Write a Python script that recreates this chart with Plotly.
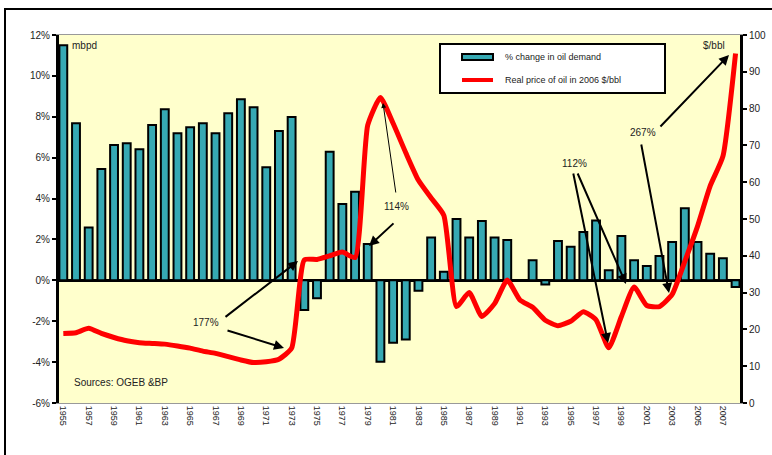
import plotly.graph_objects as go

years = list(range(1955, 2009))
demand_change = [11.5, 7.68, 2.59, 5.44, 6.62, 6.70, 6.41, 7.60, 8.37, 7.19,
                 7.49, 7.68, 7.19, 8.17, 8.86, 8.46, 5.53, 7.30, 7.99, -1.45,
                 -0.88, 6.29, 3.73, 4.33, 1.78, -3.98, -3.05, -2.89, -0.51, 2.10,
                 0.42, 3.00, 2.10, 2.90, 2.10, 1.97, 0.0, 0.98, -0.20, 1.92,
                 1.64, 2.36, 2.93, 0.49, 2.17, 0.98, 0.70, 1.19, 1.87, 3.52,
                 1.87, 1.30, 1.08, -0.33]
real_price = [18.9, 19.1, 20.3, 18.9, 17.8, 16.9, 16.4, 16.2, 16.0, 15.5,
              14.9, 14.1, 13.5, 12.6, 11.7, 11.0, 11.2, 11.9, 14.9, 38.9,
              39.0, 40.0, 41.0, 39.5, 75.5, 83.0, 76.0, 68.0, 60.5, 55.7,
              51.0, 26.2, 30.0, 23.5, 27.0, 33.4, 28.0, 26.0, 22.5, 21.0,
              22.2, 24.8, 22.6, 15.0, 23.5, 31.5, 26.5, 26.2, 29.5, 38.5,
              48.0, 59.0, 67.0, 95.0]
tick_years = list(range(1955, 2008, 2))
tick_labels = [str(y) for y in tick_years]
left_ticks = list(range(-6, 13, 2))
left_labels = [f"{v}%" for v in left_ticks]
right_ticks = list(range(0, 101, 10))

L, R, T, B = 59, 740, 35, 403
W, H = 772, 455

def px(x):
    return (x - L) / (R - L)

def py(y):
    return (B - y) / (B - T)

fig = go.Figure()
fig.add_trace(go.Bar(
    x=years, y=demand_change, width=0.62,
    marker=dict(color="#36A9B3", line=dict(color="black", width=2)),
    name="% change in oil demand", yaxis="y"))
fig.add_trace(go.Scatter(
    x=years, y=real_price, mode="lines",
    line=dict(color="#FF0000", width=5, shape="spline", smoothing=0.5),
    name="Real price of oil in 2006 $/bbl", yaxis="y2"))

tfont = dict(family="Liberation Sans, Arial, sans-serif", size=10, color="#222")

fig.update_layout(
    width=W, height=H,
    margin=dict(l=L, r=W - R, t=T, b=H - B),
    paper_bgcolor="white", plot_bgcolor="#FFFFCC",
    showlegend=False, bargap=0.35,
    font=tfont,
    xaxis=dict(range=[1954.66, 2008.35], tickvals=tick_years, ticktext=tick_labels,
               tickangle=90, tickfont=dict(size=9, color="#222"),
               showline=True, linecolor="#999", linewidth=1, mirror=True,
               showgrid=False, zeroline=False, ticks="", automargin=False),
    yaxis=dict(range=[-6, 12], tickvals=left_ticks, ticktext=left_labels,
               showline=True, linecolor="black", linewidth=3,
               ticks="outside", ticklen=4, tickwidth=2, tickcolor="black",
               showgrid=False, zeroline=True, zerolinecolor="black",
               zerolinewidth=3, tickfont=tfont, automargin=False),
    yaxis2=dict(range=[0, 100], tickvals=right_ticks, overlaying="y", side="right",
                showline=True, linecolor="black", linewidth=3,
                ticks="outside", ticklen=4, tickwidth=2, tickcolor="black",
                showgrid=False, zeroline=False, tickfont=tfont, automargin=False),
)

shapes = []
# outer frame
shapes.append(dict(type="rect", xref="paper", yref="paper",
                   x0=px(5), x1=px(790), y0=py(470), y1=py(9),
                   line=dict(color="black", width=2), fillcolor="rgba(0,0,0,0)", layer="above"))
# legend box
shapes.append(dict(type="rect", xref="paper", yref="paper",
                   x0=px(440), x1=px(665), y0=py(93), y1=py(44),
                   line=dict(color="black", width=2), fillcolor="white", layer="above"))
shapes.append(dict(type="rect", xref="paper", yref="paper",
                   x0=px(462), x1=px(493), y0=py(60), y1=py(54),
                   line=dict(color="black", width=2), fillcolor="#36A9B3", layer="above"))
shapes.append(dict(type="line", xref="paper", yref="paper",
                   x0=px(462), x1=px(493), y0=py(80), y1=py(80),
                   line=dict(color="#FF0000", width=4), layer="above"))
fig.update_layout(shapes=shapes)

anns = []
def text(x, y, s, anchor="center", size=10):
    anns.append(dict(xref="paper", yref="paper", x=px(x), y=py(y), text=s,
                     showarrow=False, xanchor=anchor, yanchor="middle",
                     font=dict(family="Liberation Sans, Arial, sans-serif", size=size, color="#222")))

def arrow(x0, y0, x1, y1, w=2):
    anns.append(dict(xref="paper", yref="paper", x=px(x1), y=py(y1),
                     ax=x0 - x1, ay=y0 - y1, axref="pixel", ayref="pixel",
                     text="", showarrow=True, arrowhead=2, arrowsize=1,
                     arrowwidth=w, arrowcolor="black", standoff=0))

text(503, 57, "% change in oil demand", "left", 9)
text(503, 80, "Real price of oil in 2006 $/bbl", "left", 9)
text(70, 45, "mbpd", "left", 10)
text(714, 46, "$/bbl", "center", 10)
text(72, 382, "Sources: OGEB &BP", "left", 10)
text(206, 322, "177%")
text(396, 206, "114%")
text(574, 163, "112%")
text(643, 132, "267%")

arrow(224, 318, 298, 261)
arrow(226, 330, 284, 348)
arrow(396, 194, 383, 103, 1)
arrow(395, 222, 369, 246)
arrow(573, 172, 608, 343)
arrow(577, 172, 626, 284)
arrow(659, 128, 729, 55)
arrow(641, 143, 669, 293)

fig.update_layout(annotations=anns)
fig.write_html("out.html", config={"displayModeBar": False},
               post_script="document.body.style.margin='0';document.body.style.overflow='hidden';")
